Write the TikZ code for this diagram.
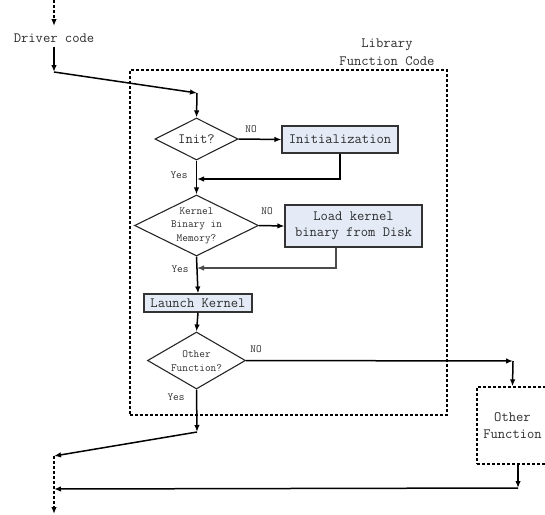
\documentclass[tikz,border=0pt]{standalone}
\usepackage{fontspec}
\usetikzlibrary{arrows.meta,shapes.geometric}
\definecolor{boxfill}{RGB}{228,235,247}
\definecolor{txt}{RGB}{45,45,45}
\begin{document}
\begin{tikzpicture}[x=1pt,y=-1pt,
  big/.style={font=\fontsize{14.2}{18}\selectfont\ttfamily, text=txt, inner sep=0pt},
  small/.style={font=\fontsize{11}{13.5}\selectfont\ttfamily, text=txt, inner sep=0pt},
  arr/.style={line width=1.5pt, -{Latex[length=7pt,width=5.5pt]}},
  arrgray/.style={line width=1.2pt, draw=black!70, -{Latex[length=7pt,width=5.5pt]}},
  dashline/.style={line width=1.4pt, dash pattern=on 3pt off 2pt, -{Latex[length=7pt,width=5.5pt]}},
  dashbox/.style={draw, line width=1.4pt, dash pattern=on 3pt off 2pt, inner sep=0pt},
  procbox/.style={draw=black!80, fill=boxfill, line width=1.1pt, inner sep=0pt},
  decision/.style={diamond, draw=black!85, line width=1.1pt, inner sep=0pt, aspect=2}
]
\clip (0,0) rectangle (545,514);

% library frame
\node[dashbox, minimum width=317pt, minimum height=345pt] (lib) at (288.5,242.5) {};
\node[big, align=center] (libtitle) at (387,52) {Library\\Function Code};

% driver
\node[big] (driver) at (54,38) {Driver code};
\coordinate (top) at (54,0);
\coordinate (topend) at (54,26);
\coordinate (c1) at (54,72);
\coordinate (c2) at (197,93);

% init
\node[decision, minimum width=83pt, minimum height=42pt] (init) at (196.5,139) {};
\node[big] (inittxt) at (init.center) {Init?};
\node[procbox, minimum width=116pt, minimum height=27pt] (initbox) at (340,139.5) {};
\node[big] (initboxtxt) at (initbox.center) {Initialization};
\coordinate (j1) at (197,179);

% kernel in memory
\node[decision, minimum width=124pt, minimum height=61pt] (kern) at (196.5,225.5) {};
\node[small, align=center] (kerntxt) at (kern.center) {Kernel\\Binary in\\Memory?};
\node[procbox, minimum width=137pt, minimum height=42pt] (load) at (353.5,226) {};
\node[big, align=center, font=\fontsize{14.2}{16}\selectfont\ttfamily] (loadtxt) at (load.center) {Load kernel\\binary from Disk};
\coordinate (j2) at (197,268);

% launch
\node[procbox, minimum width=108pt, minimum height=18pt] (launch) at (198,303) {};
\node[big] (launchtxt) at (launch.center) {Launch Kernel};

% other function?
\node[decision, minimum width=98pt, minimum height=57pt] (od) at (196.5,360.5) {};
\node[small, align=center] (odtxt) at (196.5,361) {Other\\Function?};
\coordinate (c3) at (513,361);

% other function box
\node[dashbox, minimum width=71pt, minimum height=77pt] (ofun) at (512.5,425.5) {};
\node[big, align=center, font=\fontsize{14.2}{17}\selectfont\ttfamily] (ofuntxt) at (512.5,425.5) {Other\\Function};
\coordinate (c4) at (518,488);
\coordinate (c5) at (54,489);
\coordinate (c6) at (197,432);
\coordinate (c7) at (54,456);
\coordinate (c8) at (54,514);

% labels
\node[small] (no1) at (251,129) {NO};
\node[small] (no2) at (267,211) {NO};
\node[small] (no3) at (256,349) {NO};
\node[small] (yes1) at (179,175) {Yes};
\node[small] (yes2) at (180,269) {Yes};
\node[small] (yes3) at (176,397) {Yes};

% connectors
\draw[dashline] (top) -- (topend);
\draw[arr] ([yshift=-4pt]driver.south) -- (c1);
\draw[arr] (c1) -- (c2);
\draw[arr] (c2) -- (init.north);
\draw[arr] (init.east) -- (initbox.west);
\draw[arr] (initbox.south) |- (j1);
\draw[arr] (init.south) -- (kern.north);
\draw[arr] (kern.east) -- (load.west);
\draw[arrgray] ([xshift=-17.5pt]load.south) |- (j2);
\draw[arr] (kern.south) -- (launch.north);
\draw[arr] (launch.south) -- (od.north);
\draw[arr] (od.east) -- (c3);
\draw[arr] (c3) -- (ofun.north);
\draw[arr] ([xshift=5.5pt]ofun.south) -- (c4);
\draw[arr] (c4) -- (c5);
\draw[arr] (od.south) -- (c6);
\draw[arr] (c6) -- (c7);
\draw[dashline] (c7) -- (c8);
\end{tikzpicture}
\end{document}
